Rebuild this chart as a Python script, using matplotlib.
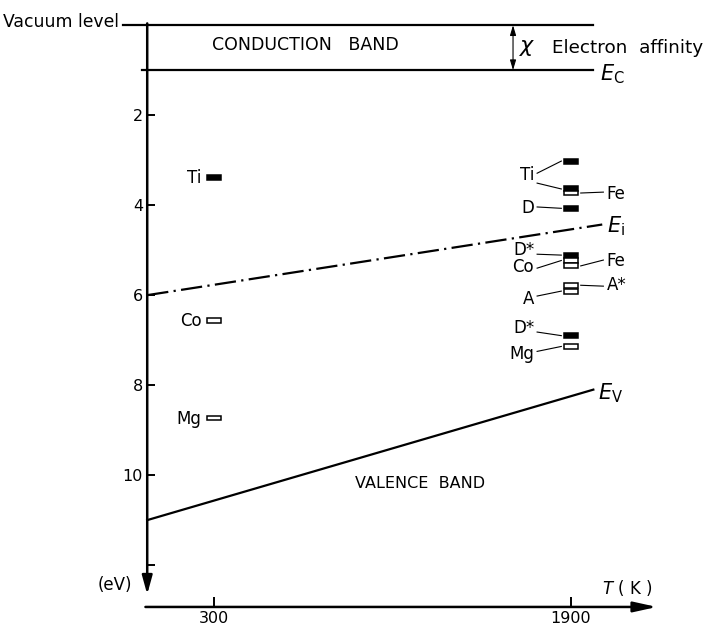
import matplotlib.pyplot as plt

# Band edges (eV below the vacuum level) against temperature (K)
vacuum_level = 0.0
e_c = 1.0
edge_t = [0, 2000]
e_i_t = [0, 2040]
e_i = [6.0, 4.43]
e_v = [11.0, 8.1]

# Impurity levels at 300 K
names_300 = ['Ti', 'Co', 'Mg']
levels_300 = [3.38, 6.56, 8.73]
filled_300 = [True, False, False]

# Impurity levels at 1900 K
levels_1900 = [3.02, 3.64, 3.73, 4.07, 5.11, 5.23, 5.35, 5.78, 5.91, 6.90, 7.14]
filled_1900 = [True, True, False, True, True, False, False, False, False, True, False]

# label, side, label energy, [(leader start energy, index into levels_1900)]
labels_1900 = [
    ('Ti', 'left', 3.31, [(3.29, 0), (3.51, 1)]),
    ('Fe', 'right', 3.73, [(3.71, 2)]),
    ('D', 'left', 4.04, [(4.04, 3)]),
    ('D*', 'left', 4.98, [(5.09, 4)]),
    ('Co', 'left', 5.36, [(5.40, 5)]),
    ('Fe', 'right', 5.22, [(5.22, 6)]),
    ('A', 'left', 6.07, [(6.02, 8)]),
    ('A*', 'right', 5.76, [(5.80, 7)]),
    ('D*', 'left', 6.71, [(6.82, 9)]),
    ('Mg', 'left', 7.29, [(7.25, 10)]),
]

y_ticks = [2, 4, 6, 8, 10, 12]
y_tick_labels = ['2', '4', '6', '8', '10', '']
x_ticks = [300, 1900]

box_w = 63     # K
box_h = 0.11   # eV
fs = 12

fig = plt.figure(figsize=(7.14, 6.29), dpi=100)
ax = fig.add_axes([0, 0, 1, 1])
ax.set_xlim(-660, 2541)
ax.set_ylim(13.42, -0.56)

# band edges
ax.plot([-110, edge_t[1]], [vacuum_level, vacuum_level], color='k', lw=1.6)
ax.plot([-22, edge_t[1]], [e_c, e_c], color='k', lw=1.6)
ax.plot(e_i_t, e_i, color='k', lw=1.6, linestyle=(0, (9.6, 2.4, 1.0, 2.4)))
ax.plot(edge_t, e_v, color='k', lw=1.6)


def draw_levels(t, levels, filled):
    for e, f in zip(levels, filled):
        ax.bar(t, box_h, width=box_w, bottom=e - box_h / 2,
               color='k' if f else 'white', edgecolor='k', linewidth=1.1)


draw_levels(300, levels_300, filled_300)
draw_levels(1900, levels_1900, filled_1900)

for name, e in zip(names_300, levels_300):
    ax.text(300 - box_w / 2 - 25, e + 0.13, name, ha='right', va='baseline', fontsize=fs)

for text, side, e_lab, leaders in labels_1900:
    if side == 'left':
        ax.text(1735, e_lab + 0.13, text, ha='right', va='baseline', fontsize=fs)
        for e0, idx in leaders:
            ax.plot([1748, 1900 - box_w / 2 - 12], [e0, levels_1900[idx]], color='k', lw=0.8)
    else:
        ax.text(2060, e_lab + 0.13, text, ha='left', va='baseline', fontsize=fs)
        for e0, idx in leaders:
            ax.plot([1900 + box_w / 2 + 12, 2045], [levels_1900[idx], e0], color='k', lw=0.8)

# axes drawn as arrows
ax.annotate('', xy=(0, 12.65), xytext=(0, -0.04),
            arrowprops=dict(arrowstyle='-|>,head_length=0.8,head_width=0.22',
                            lw=1.8, color='k', mutation_scale=14, shrinkA=0, shrinkB=0))
ax.annotate('', xy=(2285, 12.93), xytext=(-8, 12.93),
            arrowprops=dict(arrowstyle='-|>,head_length=1.0,head_width=0.22',
                            lw=1.8, color='k', mutation_scale=14, shrinkA=0, shrinkB=0))

# electron affinity
ax.annotate('', xy=(1640, vacuum_level), xytext=(1640, e_c),
            arrowprops=dict(arrowstyle='<|-|>,head_length=0.5,head_width=0.15',
                            lw=0.8, color='k', mutation_scale=12, shrinkA=0, shrinkB=0))
ax.text(1703, 0.5, r'$\chi$', ha='center', va='center', fontsize=16)
ax.text(1815, 0.5, 'Electron  affinity', ha='left', va='center', fontsize=13.2)

for s in ax.spines.values():
    s.set_visible(False)
ax.spines['left'].set_position(('data', 0))
ax.spines['bottom'].set_position(('data', 12.93))
ax.set_yticks(y_ticks, labels=y_tick_labels)
ax.set_xticks(x_ticks, labels=[str(t) for t in x_ticks])
ax.tick_params(axis='y', direction='in', length=6, width=1.4, pad=3, labelsize=11.5)
ax.tick_params(axis='x', direction='in', length=7, width=1.4, pad=3, labelsize=11.5)

# text
ax.text(-645, -0.06, 'Vacuum level', ha='left', va='center', fontsize=12.4)
ax.text(709, 0.45, 'CONDUCTION   BAND', ha='center', va='center', fontsize=12.5)
ax.text(1223, 10.18, 'VALENCE  BAND', ha='center', va='center', fontsize=11.5)
ax.text(2030, 1.08, r'$E_{\mathrm{C}}$', ha='left', va='center', fontsize=15)
ax.text(2061, 4.47, r'$E_{\mathrm{i}}$', ha='left', va='center', fontsize=15)
ax.text(2021, 8.19, r'$E_{\mathrm{V}}$', ha='left', va='center', fontsize=15)
ax.text(-143, 12.44, '(eV)', ha='center', va='center', fontsize=fs)
ax.text(2267, 12.5, r'$T$ ( K )', ha='right', va='center', fontsize=fs)

fig.savefig('out.png', dpi=100)
